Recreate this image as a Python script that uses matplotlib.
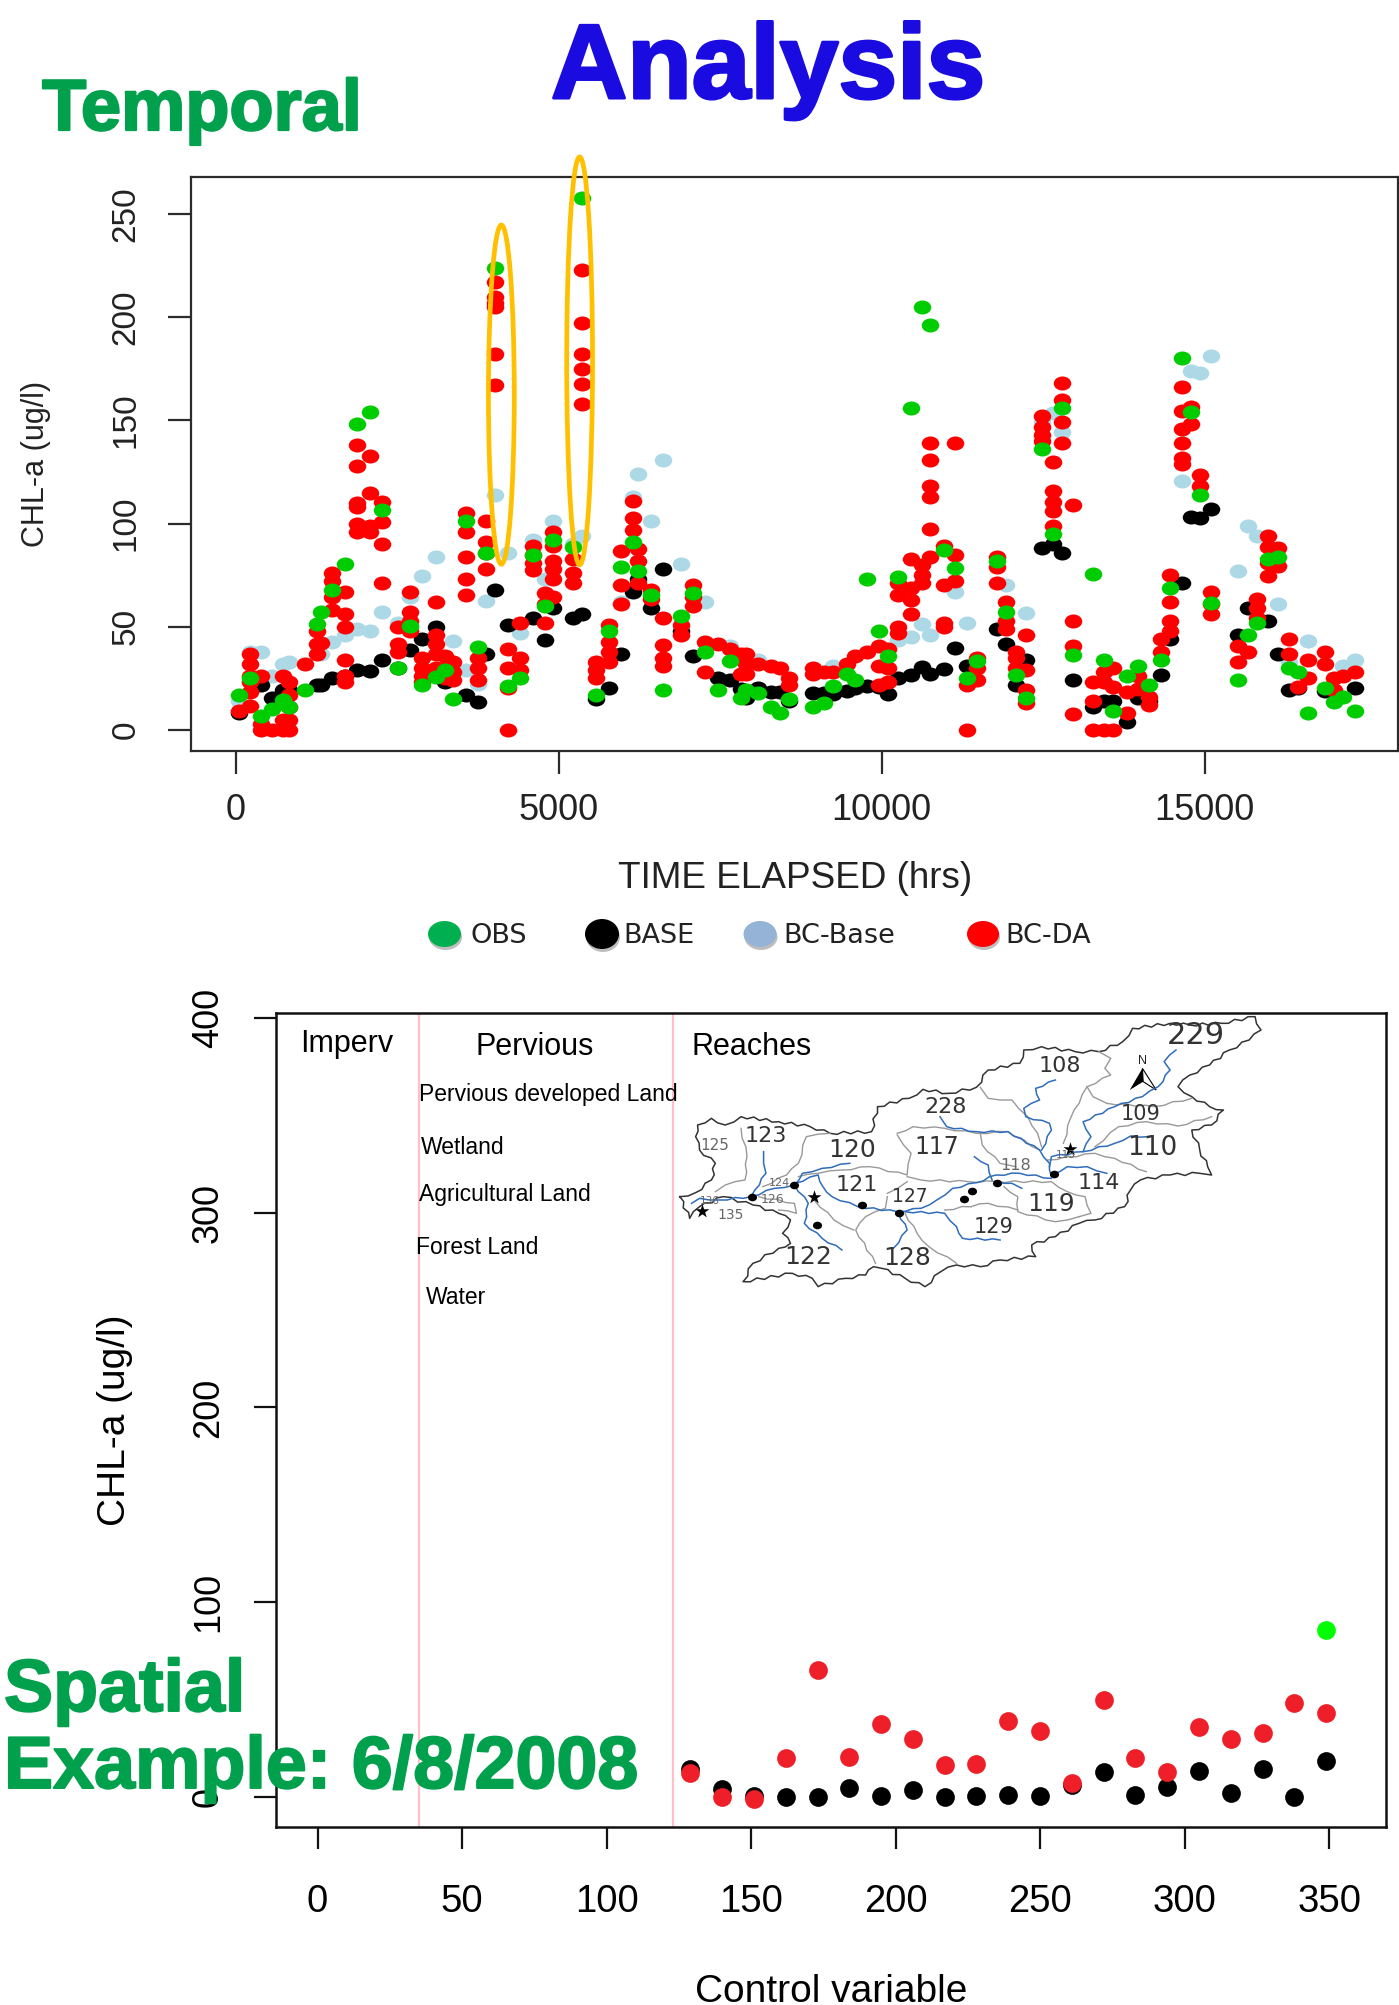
import numpy as np
import matplotlib
matplotlib.use("Agg")
import matplotlib.pyplot as plt
import matplotlib.patheffects as pe
from matplotlib.markers import MarkerStyle
from matplotlib.patches import Ellipse, Polygon
from matplotlib.transforms import Affine2D

plt.rcParams['font.family'] = ['Liberation Sans', 'DejaVu Sans']

# ---------- temporal panel data ----------
da_hours = [53,220,386,558,725,826,1063,1259,1319,1491,1687,1877,2073,2263,2507,2697,2887,3101,3231,3368,3558,3754,3873,4015,4211,4402,4598,4788,4912,5221,5358,5578,5774,5970,6142,6231,6421,6617,6884,7075,7259,7461,7657,7823,7894,8090,8280,8429,8564,8931,9102,9242,9456,9578,9774,9957,10104,10250,10446,10629,10752,10965,11136,11326,11473,11778,11925,12071,12236,12481,12646,12793,12957,13275,13440,13580,13794,13965,14130,14326,14466,14644,14784,14925,15090,15518,15665,15811,15982,16128,16299,16445,16604,16867,17008,17148,17325]
da_values = [[9.4],[36.8,32,26,23.4,18.6,11.5],[0,3,26],[0],[26,5,0],[23,17,11,5,0],[32],[37,41.6,48],[42],[76,72,64.6,58],[67,56,50,34,26,23],[138,128,110,108,100,96],[132.6,115,99,96],[110.5,100.6,90,71],[50,41.6,38],[67,57,53,48],[35,30,26,23],[62,46,41.6,37,30],[36,30,25],[33,28,24],[105,96,84,73,65.5],[35,30,24],[101,91,85.6,78],[217,210,207,205,182,167],[39,30,20.5,0],[52,35,29],[89,85,81,77.6],[66.5,61,52],[96,89,82,78,73,64.6],[83,76,71],[222.6,197,182,175,167.6,158],[33,29,25],[51,42.5,38,33],[86.6,70,61],[111,102.5,96.7],[87.5,82,71],[68,63.6],[54,41,35,31],[51,46],[70,64.6,60],[42.5,28],[41.6],[39],[37,27],[37,32,27],[32],[31],[30],[25,22],[30,27],[28],[28],[32],[36],[38],[40.6,31,22],[39,30,23],[71,65.5,50,47],[83,69,63,56],[80,75,71],[139,130.6,118,113,97.5,84],[89,70,52,50],[139,85,72],[0,22],[35,30,24],[84,79,71],[62,53,49],[38,35,30],[46,29,19.5,13],[152,147,143,140],[130,116,110.5,106,99],[168,160,149,139],[109,53,40.6,7.7],[23,14,0],[28,23,0],[30,21,0],[18.6,8],[26,20],[16,12],[44,38],[75,62,53,48],[166,154.6,146,139,131.6,129],[156.5,148],[123.6,118],[67,61,56],[40.6,33],[38],[63.6,59,54],[94,88.5,81,74.5],[88,79.5],[44,37],[21],[34,25],[38,32],[25,19.5],[26],[28]]

obs_hours = [53,220,386,558,725,826,1063,1259,1319,1491,1687,1877,2073,2263,2507,2697,2887,3101,3231,3368,3558,3754,3873,4015,4211,4402,4598,4788,4912,5221,5358,5578,5774,5970,6142,6231,6421,6617,6884,7075,7259,7461,7657,7823,7894,8090,8280,8429,8564,8931,9102,9242,9456,9578,9774,9957,10104,10250,10446,10629,10752,10965,11136,11326,11473,11778,11925,12071,12236,12481,12646,12793,12957,13275,13440,13580,13794,13965,14130,14326,14466,14644,14784,14925,15090,15518,15665,15811,15982,16128,16299,16445,16604,16867,17008,17148,17325]
obs_values = [16.7,25,6.7,10,14.7,11,19.5,51.5,57,68,80.5,148,154,106.7,30,50.6,22,25.7,29,15,101,40,85.6,224,21.5,25,85,60,92,88.5,257.7,16.7,48,79,91,77,65.5,19.5,55,66.5,38,19.5,33.5,15.7,19.5,18,11,8,15,11,13,21.5,27,24,73,48,36,74,156,205,196,87,78.5,25,33.5,82,57,26.6,15.7,136,95,156,36.4,75.7,34,9.4,26,31,22,34,69,180,154,114,61.7,24,46,52,83,84,30,28,8,20.5,13.4,16,9.4]

base_hours = [53,386,558,725,826,1259,1319,1491,1687,1877,2073,2263,2507,2697,2887,3101,3231,3558,3754,3873,4015,4211,4598,4788,4912,5221,5358,5578,5774,5970,6142,6231,6421,6617,6884,7075,7461,7657,7823,7894,8090,8280,8429,8564,8931,9102,9242,9456,9578,9774,9957,10104,10250,10446,10629,10752,10965,11136,11326,11778,11925,12071,12236,12481,12646,12793,12957,13275,13440,13580,13794,13965,14130,14326,14466,14644,14784,14925,15090,15518,15665,15982,16128,16299,16445,16867,17325]
base_values = [8,22,15.7,19.5,19.5,22,22,25,26,29,28.5,34,30,38.7,44,50,23,17,13.4,37,68,51,54,43.5,59,54,56,15,20.5,37,67,73,59,78,48,36,25,24,20,15.7,20.5,18.6,18.6,13.8,18,18,17.6,19,20.5,21.5,21,17.6,25,26.6,30.6,27,29.7,39.7,31,49,41.6,22,34,88,90,85.6,24,11,13.8,13.8,4,15.7,13.8,26.6,44,71,103,102.5,107,46,59,52.7,37,19.5,20.5,19,20.5]

bcbase_hours = [53,220,386,558,725,826,1319,1491,1687,1877,2073,2263,2507,2697,2887,3101,3368,3558,3754,3873,4015,4211,4402,4598,4788,4912,5221,5358,5970,6142,6231,6421,6617,6884,7259,7657,8090,9242,10250,10446,10629,10752,11136,11326,11925,12236,12481,12646,12793,14644,14784,14925,15090,15518,15665,15811,16128,16299,16604,17148,17325]
bcbase_values = [14,38,38,26,32,33,37,42.5,46,49,48,57,52,64.6,74.5,84,43,29,22.4,62.6,114,85.6,47,92,73,101,90,94,62,113,124,101,131,80.5,62,40.6,34,31,43.5,45,51.5,46,67,52,70,56.5,149,153.6,144.4,120.5,173.7,172.8,181.4,77,99,94,61,33,43,31,34]

# ---------- spatial panel data ----------
control_var = [129,140,151,162,173,184,195,206,217,228,239,250,261,272,283,294,305,316,327,338,349]
spatial_base = [14.5,4.3,0.5,0,0,4.6,0.3,3.4,0.2,0.5,1.2,0.5,6,12.8,1,5.1,13.5,1.9,14.2,0.2,18.7]
spatial_da = [12.3,0,-1,19.9,65.4,20.5,37.5,30,16.4,17,38.9,33.9,7.2,49.7,19.9,13,36.1,29.6,32.9,48.5,43.2]
spatial_obs_x = [349]
spatial_obs_y = [85.7]
region_breaks = [35, 123]

W, H = 1399, 2005
fig = plt.figure(figsize=(W / 100, H / 100), dpi=100, facecolor='white')

def px_axes(left, top, right, bottom, **kw):
    return fig.add_axes([left / W, 1 - bottom / H, (right - left) / W, (bottom - top) / H], **kw)

FRAME = '#2b2b2b'

# ---------- temporal panel ----------
ax = px_axes(190.7, 177, 1397.5, 751)
ax.set_xlim(-700, 17985)
ax.set_ylim(-10.2, 267.9)
dot_top = MarkerStyle('o', transform=Affine2D().scale(1.25, 1))
da_x = np.repeat(da_hours, [len(v) for v in da_values])
da_y = np.concatenate(da_values)
ax.scatter(bcbase_hours, bcbase_values, s=102, marker=dot_top, color='#ADD8E6', linewidths=0, zorder=2)
ax.scatter(base_hours, base_values, s=102, marker=dot_top, color='black', linewidths=0, zorder=3)
ax.scatter(da_x, da_y, s=102, marker=dot_top, color='#FF0000', linewidths=0, zorder=4)
ax.scatter(obs_hours, obs_values, s=102, marker=dot_top, color='#00CD00', linewidths=0, zorder=5)
ax.set_xticks([0, 5000, 10000, 15000])
ax.set_yticks([0, 50, 100, 150, 200, 250])
ax.tick_params(axis='x', length=16.5, width=1.6, color=FRAME, labelsize=26, pad=14, labelcolor='#222222')
ax.tick_params(axis='y', length=16.5, width=1.6, color=FRAME, labelsize=24, pad=19, labelcolor='#222222', labelrotation=90)
for t in ax.get_yticklabels():
    t.set_va('center')
for s in ax.spines.values():
    s.set_linewidth(1.6)
    s.set_color(FRAME)
for cx, y0, y1 in [(4110, 80.3, 244.6), (5322, 80, 277.6)]:
    ax.add_patch(Ellipse((cx, (y0 + y1) / 2), 400, y1 - y0, fill=False, edgecolor='#FFC000',
                         linewidth=3.4, clip_on=False, zorder=6))

# ---------- spatial panel ----------
ax2 = px_axes(276, 1013, 1386, 1827)
ax2.set_xlim(-14.36, 369.7)
ax2.set_ylim(-15.4, 402.5)
for b in region_breaks:
    ax2.axvline(b, color='#FFC0CB', linewidth=1.6, zorder=1)
ax2.scatter(control_var, spatial_base, s=182, color='black', linewidths=0, zorder=3)
ax2.scatter(control_var, spatial_da, s=182, color='#EE1F28', linewidths=0, zorder=4)
ax2.scatter(spatial_obs_x, spatial_obs_y, s=182, color='#00FF00', linewidths=0, zorder=5)
ax2.set_xticks([0, 50, 100, 150, 200, 250, 300, 350])
ax2.set_yticks([0, 100, 200, 300, 400])
ax2.tick_params(axis='x', length=16, width=1.6, labelsize=27.5, pad=25, color='#111111')
ax2.tick_params(axis='y', length=16, width=1.6, labelsize=26, pad=20, labelrotation=90, color='#111111')
for t in ax2.get_yticklabels():
    t.set_va('center')
for s in ax2.spines.values():
    s.set_linewidth(1.8)
    s.set_color('#111111')

# ---------- overlay in pixel space ----------
ov = fig.add_axes([0, 0, 1, 1], facecolor='none', zorder=10)
ov.set_xlim(0, W)
ov.set_ylim(H, 0)
ov.axis('off')

def T(x, y, s, size, **kw):
    kw.setdefault('ha', 'center')
    kw.setdefault('va', 'center')
    return ov.text(x, y, s, fontsize=size, **kw)

def heavy(txt, col, w):
    txt.set_path_effects([pe.withStroke(linewidth=w, foreground=col)])

heavy(T(768, 98, 'Analysis', 76, fontweight='bold', color='#1A0CE0', va='baseline'), '#1A0CE0', 2.2)
heavy(T(202, 130, 'Temporal', 52, fontweight='bold', color='#00A04C', va='baseline'), '#00A04C', 1.6)
heavy(T(4, 1711, 'Spatial', 53, fontweight='bold', color='#00A04C', ha='left', va='baseline'), '#00A04C', 1.4)
heavy(T(4, 1788, 'Example: 6/8/2008', 53, fontweight='bold', color='#00A04C', ha='left', va='baseline'), '#00A04C', 1.4)
T(36, 464, 'CHL-a (ug/l)', 22, rotation=90, color='#222222')
T(795, 879, 'TIME ELAPSED (hrs)', 26.6, color='#222222')
T(115, 1420, 'CHL-a (ug/l)', 28, rotation=90)
T(831, 1992, 'Control variable', 28)

for cx, wd, ht, col, lab, tx in [(444.5, 33, 26, '#00B050', 'OBS', 470), (602, 34, 30, 'black', 'BASE', 623),
                                 (760, 33, 26, '#95B3D7', 'BC-Base', 783), (983, 32, 26, '#FF0000', 'BC-DA', 1005)]:
    ov.add_patch(Ellipse((cx + 1, 937), wd, ht, color='#8a8a8a', linewidth=0, alpha=0.55))
    ov.add_patch(Ellipse((cx, 934), wd, ht, color=col, linewidth=0))
    T(tx, 936, lab, 19.5, ha='left', family='DejaVu Sans', color='#222222')

T(347, 1044, 'Imperv', 22)
T(535, 1047, 'Pervious', 22)
T(752, 1047, 'Reaches', 22)
for x, y, s in [(419, 1094, 'Pervious developed Land'), (421, 1147, 'Wetland'),
                (419, 1195, 'Agricultural Land'), (416, 1248, 'Forest Land'), (426, 1297, 'Water')]:
    T(x, y, s, 16.5, ha='left')

# ---------- watershed map sketch ----------
m = px_axes(660, 1000, 1280, 1320, facecolor='none', zorder=9)
m.set_xlim(0, 1568)
m.set_ylim(960, 0)
m.axis('off')
outline = [(50,590),(90,578),(130,540),(140,490),(100,450),(90,410),(95,375),(130,355),(165,375),(205,350),(300,365),(380,380),(430,400),(535,395),(550,320),(630,295),(665,268),(730,280),(800,262),(830,210),(910,190),(920,150),(965,140),(1050,155),(1110,155),(1170,125),(1195,85),(1290,70),(1340,75),(1420,70),(1505,50),(1520,90),(1490,120),(1440,150),(1390,195),(1340,225),(1310,260),(1345,290),(1390,320),(1425,330),(1395,375),(1345,390),(1365,450),(1385,500),(1395,525),(1365,520),(1290,525),(1215,540),(1190,570),(1175,620),(1100,660),(1060,670),(1000,710),(940,735),(950,770),(860,780),(810,800),(750,795),(710,815),(670,860),(620,835),(560,805),(540,800),(520,825),(470,835),(400,860),(385,835),(335,820),(210,845),(235,790),(300,745),(330,730),(310,700),(330,660),(300,640),(235,615),(160,590),(100,620),(75,655),(50,590)]
basins = [
    [(205,385),(220,470),(215,540),(165,555),(140,575)],
    [(430,400),(370,410),(350,490),(320,525),(260,560)],
    [(600,400),(640,380),(720,385),(800,400),(880,395),(960,450)],
    [(600,405),(635,460),(625,525),(530,500),(460,510),(400,520),(350,530)],
    [(625,530),(660,540),(780,545),(850,545),(990,545),(1030,575),(1075,590),(1090,640),(1060,650)],
    [(810,262),(830,295),(890,300),(930,350),(955,400),(965,440)],
    [(1110,155),(1140,175),(1125,205),(1140,225),(1080,260),(1095,290),(1130,310),(1250,320),(1345,295)],
    [(1080,260),(1060,310),(1040,350),(1020,430)],
    [(1100,440),(1160,380),(1230,365),(1310,378),(1395,350)],
    [(980,480),(1100,460),(1150,475),(1230,515)],
    [(810,400),(815,435),(860,490),(900,500)],
    [(870,560),(905,590),(905,635),(1000,665),(1060,650)],
    [(575,590),(570,625),(520,650),(495,690),(545,790)],
    [(390,600),(440,660),(490,690)],
    [(620,640),(650,700),(680,740),(750,790)],
    [(720,630),(830,610),(905,630)],
    [(575,580),(625,545)],
    [(250,590),(340,610),(345,640),(300,630)],
]
rivers = [
    [(262,455),(262,490),(268,520),(240,570),(230,590)],
    [(80,610),(100,595),(150,600),(230,590),(290,565),(340,555),(360,520),(410,505),(480,490)],
    [(340,555),(375,610),(365,670),(410,715),(460,750)],
    [(340,550),(400,525),(412,560),(435,590),(500,620),(600,635),(660,625),(700,600),(740,565),(800,548),(850,525),(910,520),(990,535)],
    [(604,640),(625,690),(590,745)],
    [(620,635),(720,640),(750,680),(765,715),(860,720)],
    [(795,470),(830,495),(840,540)],
    [(708,350),(725,380),(800,395),(880,395),(960,450),(985,490),(990,530)],
    [(1000,240),(950,265),(960,300),(920,325),(925,350),(985,370),(990,390),(965,450)],
    [(1305,150),(1275,185),(1290,210),(1260,260),(1220,290),(1150,320),(1070,365),(1090,410),(1070,455),(990,470),(985,500)],
    [(1070,455),(1150,430),(1190,408),(1235,410)],
    [(990,525),(1030,500),(1080,500),(1130,520)],
    [(850,545),(890,550),(915,565)],
]

def ragged(points, step=16.0, amp=4.0):
    """Turn a coarse hand-traced boundary into a crinkled map edge."""
    out = []
    for (x0, y0), (x1, y1) in zip(points[:-1], points[1:]):
        dx, dy = x1 - x0, y1 - y0
        n = max(int(np.hypot(dx, dy) / step), 1)
        nx, ny = -dy / np.hypot(dx, dy), dx / np.hypot(dx, dy)
        for i in range(n):
            off = amp * (1 if i % 2 else -1) if i else 0
            out.append((x0 + dx * i / n + nx * off, y0 + dy * i / n + ny * off))
    out.append(points[-1])
    return np.array(out)

xy = ragged(outline)
m.plot(xy[:, 0], xy[:, 1], color='#333333', linewidth=1.1, solid_joinstyle='round')
for b in basins:
    xy = ragged(b, step=22, amp=2.5)
    m.plot(xy[:, 0], xy[:, 1], color='#999999', linewidth=1.0)
for r in rivers:
    xy = ragged(r, step=18, amp=2.5)
    m.plot(xy[:, 0], xy[:, 1], color='#2F6DBB', linewidth=1.1)
gauges = [(232,591),(340,555),(512,616),(604,640),(396,674),(768,596),(790,573),(852,548),(996,522)]
m.scatter(*zip(*gauges), s=30, color='black', marker=MarkerStyle('o', transform=Affine2D().scale(1.2, 1)), linewidths=0, zorder=3)
m.scatter([390, 1038, 105], [590, 447, 632], s=110, marker='*', color='black', linewidths=0, zorder=3)
m.add_patch(Polygon([(1188,270),(1220,205),(1222,245)], color='black', linewidth=0))
m.add_patch(Polygon([(1220,205),(1255,270),(1222,245)], fill=False, edgecolor='black', linewidth=0.8))
m.text(1220, 182, 'N', fontsize=9, ha='center', va='center', color='#222222')
map_labels = [('229',1355,108,22),('108',1010,198,16),('228',722,322,16),('123',268,408,16),('120',485,450,18),
              ('117',700,442,17),('110',1245,445,19),('121',497,555,16),('114',1110,550,16),('119',988,612,18),
              ('129',843,682,15),('122',375,772,18),('128',625,775,18),('109',1215,343,15),('118',900,497,11.5),
              ('127',632,590,13.5),('135',178,645,10),('125',138,435,11),('113',1025,465,7.5),('124',303,548,8),
              ('126',285,598,9),('136',125,603,7.5)]
for s, x, y, size in map_labels:
    col = '#333333' if size >= 13 else '#666666'
    m.text(x, y, s, fontsize=size, family='DejaVu Sans', ha='center', va='center', color=col)

fig.savefig('out.png', dpi=100)
